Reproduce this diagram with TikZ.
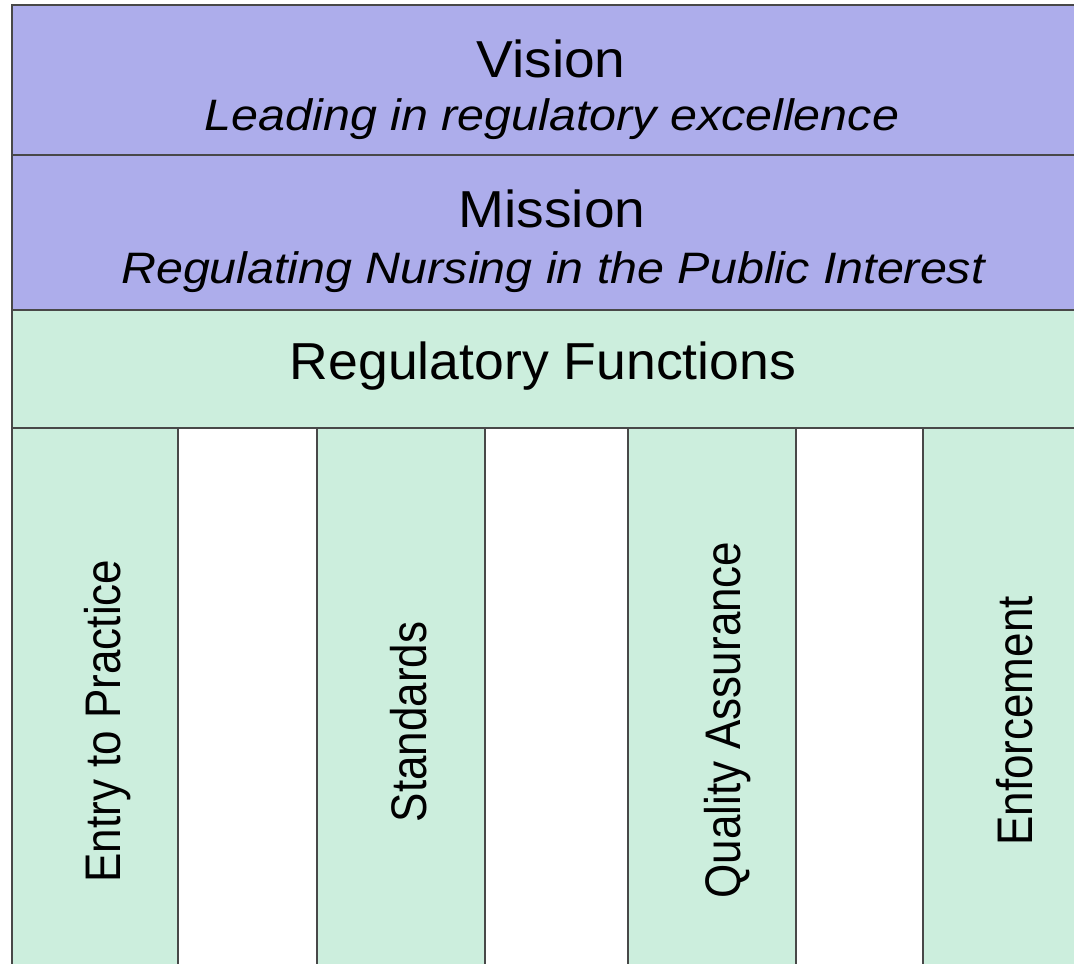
\documentclass[tikz,border=0pt]{standalone}
\usepackage{fontspec}
\setmainfont{Liberation Sans}
\definecolor{vispurple}{HTML}{ADADEB}
\definecolor{regreen}{HTML}{CCEEDD}
\definecolor{edgegray}{HTML}{484848}
\tikzset{
  band/.style={draw=edgegray, line width=2.5pt},
  maintxt/.style={inner sep=0pt, anchor=base, font=\fontsize{52}{60}\selectfont},
  subtxt/.style={inner sep=0pt, anchor=base, font=\fontsize{44}{50}\selectfont\itshape},
  pillartxt/.style={inner sep=0pt, anchor=base, rotate=90, font=\fontsize{50}{56}\selectfont},
}
\begin{document}
\begin{tikzpicture}[x=1pt, y=-1pt]
\useasboundingbox (0,0) rectangle (1074,964);
\clip (0,0) rectangle (1074,964);
\fill[white] (0,0) rectangle (1074,964);
% bands
\path[band, fill=vispurple] (12,5) rectangle (1091,155);
\path[band, fill=vispurple] (12,155) rectangle (1091,310);
\path[band, fill=regreen] (12,310) rectangle (1091,428);
% pillars
\path[band, fill=regreen] (12,428) rectangle (178,990);
\path[band, fill=regreen] (317,428) rectangle (485,990);
\path[band, fill=regreen] (628,428) rectangle (796,990);
\path[band, fill=regreen] (923,428) rectangle (1091,990);
% texts
\node[maintxt] (vision) at (551,77) {\scalebox{1.06}[1]{Vision}};
\node[subtxt] (visiontxt) at (552,130) {\scalebox{1.1}[1]{Leading in regulatory excellence}};
\node[maintxt] (mission) at (552,227) {\scalebox{1.06}[1]{Mission}};
\node[subtxt] (missiontxt) at (553,283) {\scalebox{1.1}[1]{Regulating Nursing in the Public Interest}};
\node[maintxt] (regfun) at (543,379) {\scalebox{1.03}[1]{Regulatory Functions}};
\node[pillartxt] (entry) at (120,721) {\scalebox{0.88}[1]{Entry to Practice}};
\node[pillartxt] (standards) at (426,722) {\scalebox{0.88}[1]{Standards}};
\node[pillartxt] (quality) at (740,720) {\scalebox{0.88}[1]{Quality Assurance}};
\node[pillartxt] (enforce) at (1032,721) {\scalebox{0.88}[1]{Enforcement}};
\end{tikzpicture}
\end{document}
